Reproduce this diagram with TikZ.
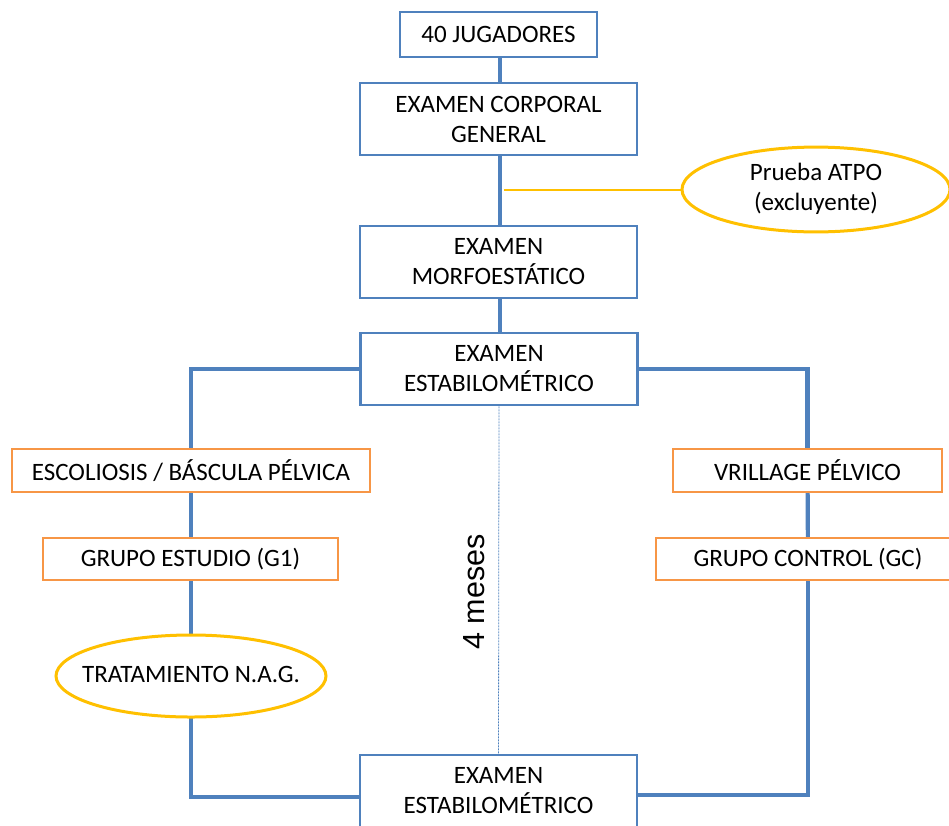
\documentclass[tikz,border=0pt]{standalone}
\usepackage{fontspec}
\setmainfont{Carlito}
\newfontfamily\arialfont{Liberation Sans}
\usetikzlibrary{shapes.geometric}
\definecolor{bblue}{HTML}{4F81BD}
\definecolor{borange}{HTML}{F79646}
\definecolor{bgold}{HTML}{FFC000}
\tikzset{
  txt/.style={font=\fontsize{25pt}{30pt}\selectfont, align=center, inner sep=0pt, text=black},
  bluebox/.style={txt, draw=bblue, line width=2.8pt, fill=white, rectangle},
  orangebox/.style={txt, draw=borange, line width=1.8pt, fill=white, rectangle},
  goldell/.style={txt, draw=bgold, line width=3pt, fill=white, ellipse},
  conn/.style={draw=bblue, line width=4.2pt},
  thinconn/.style={draw=bgold, line width=1.2pt},
  dotconn/.style={draw=bblue, line width=0.8pt, dash pattern=on 2pt off 1pt},
}
\newcommand{\zerowide}[1]{\makebox[0pt][c]{\begin{tabular}{@{}c@{}}#1\end{tabular}}}
\begin{document}
\begin{tikzpicture}[x=1pt,y=-1pt]
\useasboundingbox (0,0) rectangle (949,825);
\clip (0,0) rectangle (949,825);
\coordinate (Jc) at (498.5,34.5);
\coordinate (ECGc) at (498.5,119);
\coordinate (EMc) at (498.5,262);
\coordinate (EEc) at (499,369);
\coordinate (EE2c) at (498.5,791);
\coordinate (ESCc) at (191,470.5);
\coordinate (G1c) at (191,559);
\coordinate (VPc) at (807.5,470.5);
\coordinate (GCc) at (808,559);
\coordinate (TRATc) at (191,676);
\coordinate (ATPOc) at (816,189.5);

\node[bluebox, minimum width=197pt, minimum height=45pt] (J) at (Jc) {40 JUGADORES};
\node[bluebox, minimum width=277pt, minimum height=72pt] (ECG) at (ECGc) {EXAMEN CORPORAL\\GENERAL};
\node[bluebox, minimum width=277pt, minimum height=72pt] (EM) at (EMc) {EXAMEN\\MORFOEST\'ATICO};
\node[bluebox, minimum width=277pt, minimum height=72pt] (EE) at (EEc) {EXAMEN\\ESTABILOM\'ETRICO};
\node[bluebox, minimum width=277pt, minimum height=72pt] (EE2) at (EE2c) {EXAMEN\\ESTABILOM\'ETRICO};

% vertical main connectors
\draw[conn] (J.south -| 500,0) -- (ECG.north -| 500,0);
\draw[conn] (ECG.south -| 500,0) -- (EM.north -| 500,0);
\draw[conn] (EM.south -| 500,0) -- (EE.north -| 500,0);

% branches
\draw[conn] (EE.west) -| (ESCc);
\draw[conn] (ESCc) -- (G1c);
\draw[conn] (G1c) -- (TRATc);
\draw[conn] (TRATc) |- ([yshift=-6pt]EE2.west);
\draw[conn] (EE.east) -| (VPc);
\draw[conn] (VPc) -- (GCc);
\draw[conn] (GCc) |- ([yshift=-4pt]EE2.east);

% dotted 4 meses line
\draw[dotconn] (EE.south) -- (EE2.north);
\node[font=\arialfont\fontsize{30.5pt}{36pt}\selectfont, rotate=90, inner sep=0pt] (M) at (474,592) {4 meses};

% gold connector to ATPO
\coordinate (tap) at (504,190);
\node[goldell, minimum width=268pt, minimum height=81pt] (ATPO) at (ATPOc) {\zerowide{Prueba ATPO\\(excluyente)}};
\draw[thinconn] (tap) -- (ATPO.west |- tap);

% side nodes
\node[orangebox, minimum width=358pt, minimum height=43pt] (ESC) at (ESCc) {ESCOLIOSIS / B\'ASCULA P\'ELVICA};
\node[orangebox, minimum width=295pt, minimum height=42pt] (G1) at (190.5,559) {GRUPO ESTUDIO (G1)};
\node[orangebox, minimum width=269pt, minimum height=43pt] (VP) at (VPc) {VRILLAGE P\'ELVICO};
\node[orangebox, minimum width=304pt, minimum height=42pt] (GC) at (GCc) {GRUPO CONTROL (GC)};
\node[goldell, minimum width=270pt, minimum height=82pt] (TRAT) at (TRATc) {\zerowide{TRATAMIENTO N.A.G.}};
\end{tikzpicture}
\end{document}
